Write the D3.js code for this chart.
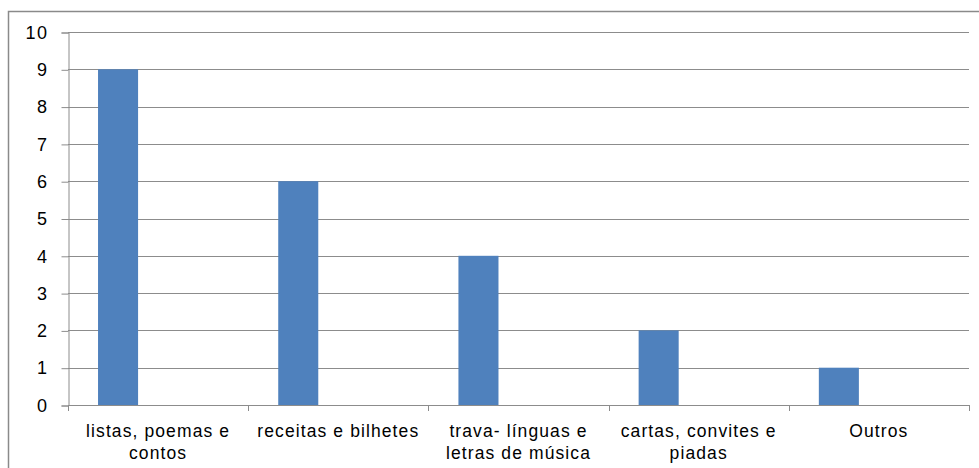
<!DOCTYPE html>
<html>
<head>
<meta charset="utf-8">
<script src="https://cdn.jsdelivr.net/npm/d3@7"></script>
<style>
  body { margin: 0; background: #fff; }
  text { font-family: "Liberation Sans", "Open Sans", sans-serif; fill: #000; }
</style>
</head>
<body>
<div id="chart"></div>
<script>
var categories = [
  ["listas, poemas e", "contos"],
  ["receitas e bilhetes"],
  ["trava- línguas e", "letras de música"],
  ["cartas, convites e", "piadas"],
  ["Outros"]
];
var values = [9, 6, 4, 2, 1];
var yTicks = [0, 1, 2, 3, 4, 5, 6, 7, 8, 9, 10];

var W = 979, H = 468;
var margin = {top: 32, left: 68, right: 10, bottom: 63};

var svg = d3.select("#chart").append("svg")
    .attr("width", W)
    .attr("height", H);

// outer chart border
svg.append("rect")
    .attr("x", 8.5).attr("y", 11.5)
    .attr("width", W + 10).attr("height", H + 10)
    .attr("fill", "none")
    .attr("stroke", "#8a8a8a")
    .attr("stroke-width", 1.5);

var keys = categories.map(function(c, i) { return i; });

var x = d3.scaleBand()
    .domain(keys)
    .range([margin.left, W - margin.right]);

var y = d3.scaleLinear()
    .domain([0, 10])
    .range([H - margin.bottom, margin.top]);

// gridlines
svg.append("g")
  .selectAll("line")
  .data(yTicks.filter(function(t) { return t > 0; }))
  .enter().append("line")
    .attr("x1", margin.left)
    .attr("x2", W - margin.right)
    .attr("y1", function(d) { return Math.round(y(d)) + 0.5; })
    .attr("y2", function(d) { return Math.round(y(d)) + 0.5; })
    .attr("stroke", "#8c8c8c")
    .attr("stroke-width", 1);

// y axis
var yAxis = svg.append("g")
    .attr("transform", "translate(" + (margin.left + 0.5) + ",0.5)")
    .call(d3.axisLeft(y).tickValues(yTicks).tickSize(7).tickPadding(13).tickFormat(d3.format("d")));
yAxis.selectAll("path, line").attr("stroke", "#8c8c8c");
yAxis.selectAll("text").style("font-size", "18px").style("letter-spacing", "1.5px");

// bars
var bw = x.bandwidth();
svg.append("g")
  .selectAll("rect")
  .data(values)
  .enter().append("rect")
    .attr("x", function(d, i) { return x(i) + bw / 6; })
    .attr("y", function(d) { return y(d); })
    .attr("width", bw * 2 / 9)
    .attr("height", function(d) { return y(0) - y(d); })
    .attr("fill", "#4f81bd");

// x axis line and ticks at category boundaries
var xa = svg.append("g");
xa.append("line")
    .attr("x1", margin.left).attr("x2", W - margin.right)
    .attr("y1", Math.round(y(0)) + 0.5).attr("y2", Math.round(y(0)) + 0.5)
    .attr("stroke", "#8c8c8c");
xa.selectAll("line.tk")
  .data(keys.concat([keys.length]))
  .enter().append("line")
    .attr("class", "tk")
    .attr("x1", function(d) { return Math.round(margin.left + d * bw) + 0.5; })
    .attr("x2", function(d) { return Math.round(margin.left + d * bw) + 0.5; })
    .attr("y1", y(0))
    .attr("y2", y(0) + 6)
    .attr("stroke", "#8c8c8c");

// category labels
var lbl = svg.append("g")
  .selectAll("text")
  .data(categories)
  .enter().append("text")
    .attr("text-anchor", "middle")
    .attr("x", function(d, i) { return x(i) + bw / 2; })
    .attr("y", 437)
    .style("font-size", "17.5px")
    .style("letter-spacing", "1.1px");
lbl.selectAll("tspan")
  .data(function(d) { return d; })
  .enter().append("tspan")
    .attr("x", function() { return d3.select(this.parentNode).attr("x"); })
    .attr("dy", function(d, i) { return i === 0 ? 0 : 22; })
    .text(function(d) { return d; });
</script>
</body>
</html>
